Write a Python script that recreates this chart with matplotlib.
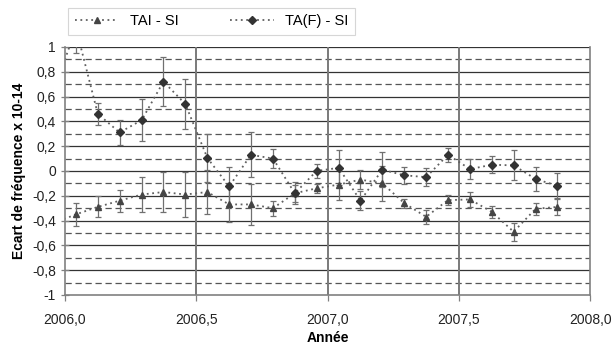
import numpy as np
import matplotlib
matplotlib.use("Agg")
import matplotlib.pyplot as plt
from matplotlib.ticker import FixedLocator

plt.rcParams['font.family'] = ['Liberation Sans', 'DejaVu Sans']

# monthly points (mid-month), first one lies just before the axis start
annee = [2005.958, 2006.042, 2006.125, 2006.208, 2006.292, 2006.375, 2006.458,
         2006.542, 2006.625, 2006.708, 2006.792, 2006.875, 2006.958,
         2007.042, 2007.125, 2007.208, 2007.292, 2007.375, 2007.458,
         2007.542, 2007.625, 2007.708, 2007.792, 2007.875]

tai_si = [-0.42, -0.35, -0.29, -0.24, -0.19, -0.17, -0.19,
          -0.17, -0.27, -0.27, -0.30, -0.18, -0.14,
          -0.11, -0.07, -0.10, -0.26, -0.37, -0.235,
          -0.23, -0.33, -0.49, -0.305, -0.29]
tai_err = [0.09, 0.095, 0.085, 0.088, 0.14, 0.16, 0.18,
           0.175, 0.145, 0.165, 0.06, 0.07, 0.035,
           0.124, 0.075, 0.14, 0.035, 0.058, 0.043,
           0.058, 0.05, 0.074, 0.048, 0.065]

taf_si = [0.65, 1.15, 0.46, 0.31, 0.41, 0.72, 0.54,
          0.105, -0.125, 0.13, 0.10, -0.18, 0.0,
          0.025, -0.24, 0.01, -0.035, -0.05, 0.13,
          0.015, 0.05, 0.045, -0.065, -0.12]
taf_err = [0.2, 0.2, 0.09, 0.1, 0.17, 0.2, 0.2,
           0.195, 0.16, 0.18, 0.08, 0.09, 0.06,
           0.14, 0.078, 0.14, 0.07, 0.075, 0.054,
           0.083, 0.07, 0.12, 0.098, 0.1]

y_labels = ['-1', '-0,8', '-0,6', '-0,4', '-0,2', '0', '0,2', '0,4', '0,6', '0,8', '1']
x_labels = ['2006,0', '2006,5', '2007,0', '2007,5', '2008,0']

fig = plt.figure(figsize=(6.13, 3.45), dpi=100)
ax = fig.add_axes([0.106, 0.145, 0.857, 0.719])

# grid
for v in np.arange(-0.9, 1.0, 0.2):
    ax.axhline(v, color='#555555', lw=0.9, ls=(0, (5, 3)), zorder=1)
for v in np.arange(-0.8, 1.01, 0.2):
    ax.axhline(v, color='#333333', lw=0.9, zorder=1)
for v in [2006.5, 2007.0, 2007.5]:
    ax.axvline(v, color='#7a7a7a', lw=1.4, zorder=1)

ax.errorbar(annee, tai_si, yerr=tai_err, fmt='^', color='#454545', ms=5,
            ecolor='#707070', elinewidth=0.9, capsize=2.5, capthick=0.9, zorder=3)
ax.plot(annee, tai_si, ls=(0, (1, 2)), color='#606060', lw=1.3, zorder=2)

ax.errorbar(annee, taf_si, yerr=taf_err, fmt='D', color='#333333', ms=4.5,
            ecolor='#707070', elinewidth=0.9, capsize=2.5, capthick=0.9, zorder=3)
ax.plot(annee, taf_si, ls=(0, (1, 2)), color='#606060', lw=1.3, zorder=2)

ax.set_xlim(2006, 2008)
ax.set_ylim(-1, 1)
ax.xaxis.set_major_locator(FixedLocator([2006, 2006.5, 2007, 2007.5, 2008]))
ax.set_xticklabels(x_labels)
ax.yaxis.set_major_locator(FixedLocator(np.linspace(-1, 1, 11)))
ax.set_yticklabels(y_labels)
ax.tick_params(axis='both', labelsize=10, colors='#222222', length=4,
               width=0.9, color='#808080')
ax.tick_params(axis='x', pad=9)
ax.tick_params(axis='y', direction='inout', length=6)
ax.spines['top'].set_visible(False)
for s in ['left', 'bottom', 'right']:
    ax.spines[s].set_color('#808080')
    ax.spines[s].set_linewidth(1.2)

ax.set_xlabel('Année', fontsize=10, fontweight='bold', labelpad=3)
ax.set_ylabel('Ecart de fréquence x 10-14', fontsize=10, fontweight='bold', labelpad=4)

h1, = plt.plot([], [], ls=(0, (1, 2)), color='#606060', lw=1.3, marker='^',
               mfc='#454545', mec='#454545', ms=5)
h2, = plt.plot([], [], ls=(0, (1, 2)), color='#606060', lw=1.3, marker='D',
               mfc='#333333', mec='#333333', ms=4.5)
leg = fig.legend([h1, h2], ['TAI - SI', 'TA(F) - SI'], ncol=2,
                 loc='upper left', bbox_to_anchor=(0.104, 0.99), fontsize=10.5,
                 frameon=True, fancybox=False, edgecolor='#cccccc',
                 handlelength=3, columnspacing=3.5, borderpad=0.45,
                 borderaxespad=0.3)
leg.get_frame().set_linewidth(0.8)

fig.savefig('out.png', dpi=100)
